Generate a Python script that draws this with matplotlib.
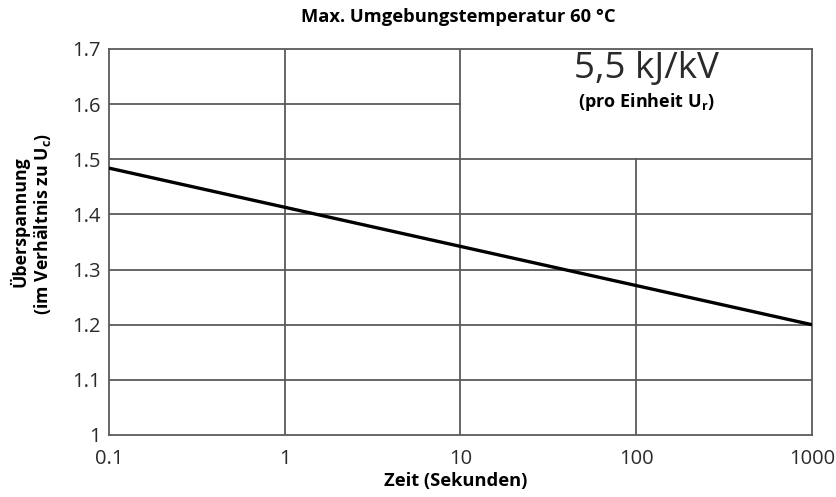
import matplotlib
matplotlib.use("Agg")
import matplotlib.pyplot as plt

# Overvoltage capability curve (log time axis)
time_s = [0.1, 1000]
overvoltage = [1.484, 1.200]

x_ticks = [0.1, 1, 10, 100, 1000]
x_tick_labels = ["0.1", "1", "10", "100", "1000"]
y_ticks = [1.0, 1.1, 1.2, 1.3, 1.4, 1.5, 1.6, 1.7]
y_tick_labels = ["1", "1.1", "1.2", "1.3", "1.4", "1.5", "1.6", "1.7"]

plt.rcParams["font.family"] = ["Open Sans", "DejaVu Sans"]
plt.rcParams["mathtext.fontset"] = "custom"
plt.rcParams["mathtext.rm"] = "Open Sans"
plt.rcParams["mathtext.bf"] = "Open Sans:bold"

grid_color = "#5a5a5a"
text_color = "#2a2a2a"

fig = plt.figure(figsize=(8.37, 4.97), dpi=100)
ax = fig.add_axes([109 / 837, 62 / 497, 703 / 837, 386 / 497])
ax.set_xscale("log")
ax.set_xlim(0.1, 1000)
ax.set_ylim(1.0, 1.7)

# Grid, leaving the top-right annotation box free of inner lines
lw = 1.3
for yv in [1.1, 1.2, 1.3, 1.4, 1.5]:
    ax.plot([0.1, 1000], [yv, yv], color=grid_color, lw=lw, zorder=1)
ax.plot([0.1, 10], [1.6, 1.6], color=grid_color, lw=lw, zorder=1)
ax.plot([1, 1], [1.0, 1.7], color=grid_color, lw=lw, zorder=1)
ax.plot([10, 10], [1.0, 1.7], color=grid_color, lw=lw, zorder=1)
ax.plot([100, 100], [1.0, 1.5], color=grid_color, lw=lw, zorder=1)

for s in ax.spines.values():
    s.set_color(grid_color)
    s.set_linewidth(lw)

ax.plot(time_s, overvoltage, color="black", lw=2.4, zorder=3, solid_capstyle="butt")

ax.set_xticks(x_ticks)
ax.set_xticklabels(x_tick_labels)
ax.set_yticks(y_ticks)
ax.set_yticklabels(y_tick_labels)
ax.xaxis.set_minor_locator(matplotlib.ticker.NullLocator())
ax.tick_params(axis="both", length=0, labelsize=14.5, colors=text_color)
ax.tick_params(axis="x", pad=10)
ax.tick_params(axis="y", pad=6)

ax.text(0.765, 0.948, "5,5 kJ/kV", transform=ax.transAxes,
        ha="center", va="center", fontsize=26.5, color=text_color)
ax.text(0.764, 0.862, r"(pro Einheit U$_\mathbf{r}$)", transform=ax.transAxes,
        ha="center", va="center", fontsize=13, fontweight="bold", color="black")

fig.text(458 / 837, 1 - 17 / 497, "Max. Umgebungstemperatur 60 °C",
         ha="center", va="center", fontsize=13.2, fontweight="bold")
fig.text(456 / 837, 1 - 481 / 497, "Zeit (Sekunden)",
         ha="center", va="center", fontsize=13.2, fontweight="bold")
fig.text(19 / 837, 1 - 222 / 497, "Überspannung", rotation=90,
         ha="center", va="center", fontsize=12.8, fontweight="bold")
fig.text(43 / 837, 1 - 224 / 497, r"(im Verhältnis zu U$_\mathbf{c}$)", rotation=90,
         ha="center", va="center", fontsize=12.8, fontweight="bold")

fig.savefig("out.png", dpi=100, facecolor="white")
